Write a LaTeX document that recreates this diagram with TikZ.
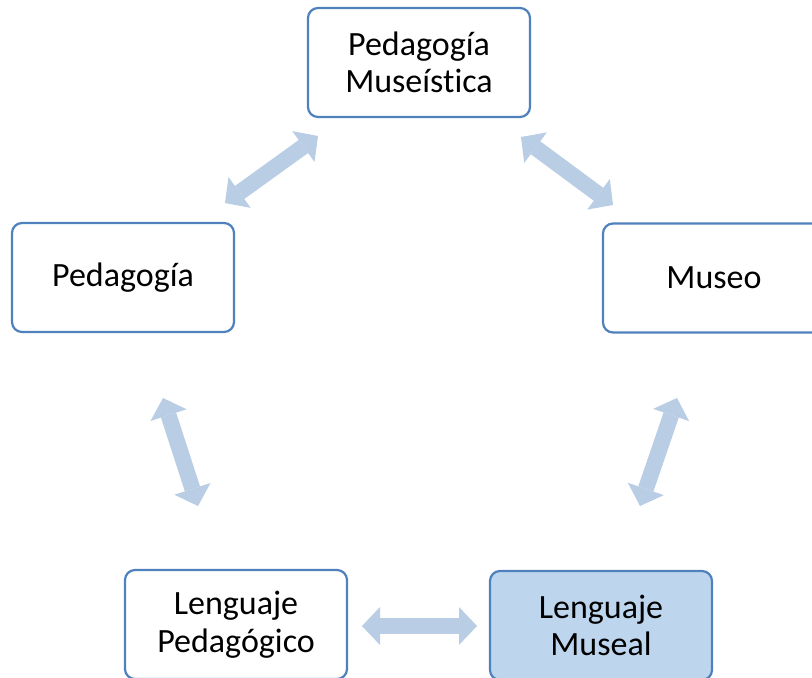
\documentclass[tikz,border=0pt]{standalone}
\usepackage{fontspec}
\setmainfont{Carlito}[Ligatures=NoCommon]
\usetikzlibrary{arrows.meta}
\definecolor{boxline}{RGB}{79,129,189}
\definecolor{boxfill}{RGB}{189,214,238}
\definecolor{arrowfill}{RGB}{185,205,229}
\begin{document}
\begin{tikzpicture}[x=1pt,y=-1pt,
  box/.style={draw=boxline, line width=2.2pt, rounded corners=10pt, fill=white,
    minimum width=222pt, minimum height=109pt, inner sep=0pt, outer sep=0pt,
    align=center, font=\fontsize{34}{37.5}\selectfont, text=black},
  hibox/.style={box, fill=boxfill},
  link/.style={draw=arrowfill, line width=16pt,
    {Triangle[width=38pt,length=18pt,line width=0pt]}-{Triangle[width=38pt,length=18pt,line width=0pt]}}]
\fill[white] (0,0) rectangle (812,678);
\useasboundingbox (0,0) rectangle (812,678);
\clip (0,0) rectangle (812,678);

\node[box] (pm) at (419,62.5) {Pedagogía\\Museística};
\node[box] (ped) at (123,277.5) {Pedagogía};
\node[box] (mus) at (714,278) {Museo};
\node[box] (lp) at (236,624.5) {Lenguaje\\Pedagógico};
\node[hibox] (lm) at (601,625.5) {Lenguaje\\Museal};

\coordinate (a1s) at (225,203);
\coordinate (a1e) at (318,136);
\coordinate (a2s) at (521,137);
\coordinate (a2e) at (613,205);
\coordinate (a3s) at (163,398);
\coordinate (a3e) at (198,506);
\coordinate (a4s) at (677,398);
\coordinate (a4e) at (640,506);
\coordinate (a5s) at (362,626);
\coordinate (a5e) at (477,626);

\draw[link] (a1s) -- (a1e);
\draw[link] (a2s) -- (a2e);
\draw[link] (a3s) -- (a3e);
\draw[link] (a4s) -- (a4e);
\draw[link] (a5s) -- (a5e);
\end{tikzpicture}
\end{document}
